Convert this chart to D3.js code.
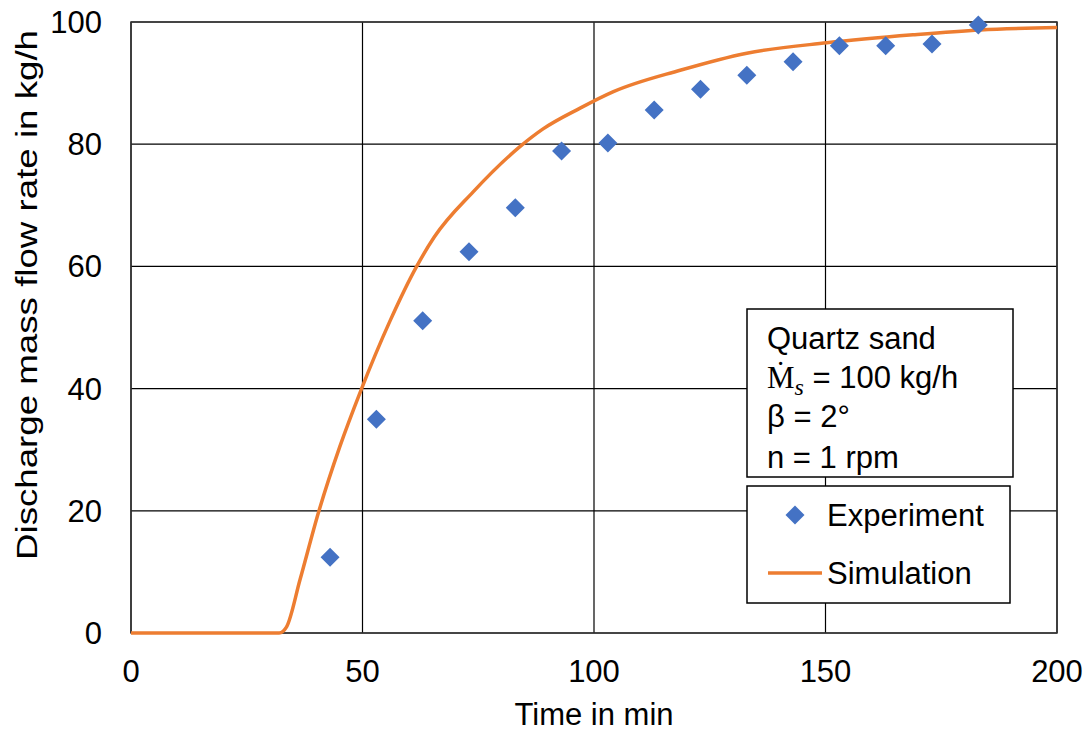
<!DOCTYPE html>
<html>
<head>
<meta charset="utf-8">
<script src="https://cdn.jsdelivr.net/npm/d3@7"></script>
<style>
  body { margin: 0; background: #fff; }
  text { font-family: "Liberation Sans", Arial, sans-serif; fill: #000; }
</style>
</head>
<body>
<svg id="chart" width="1091" height="736"></svg>
<script>
// experiment: measured discharge rate
const expTime = [43, 53, 63, 73, 83, 93, 103, 113, 123, 133, 143, 153, 163, 173, 183];
const expRate = [12.4, 35.0, 51.1, 62.4, 69.6, 78.9, 80.2, 85.6, 89.0, 91.3, 93.5, 96.1, 96.1, 96.4, 99.5];

// simulation curve
const simTime = [0, 32, 33.6, 36.5, 40.6, 45.1, 49.6, 55.9, 61.7, 65.5, 73.9, 84, 89, 97, 104.2, 118.6, 133, 150.3, 168.9, 183.4, 200];
const simRate = [0, 0, 1.0, 8.7, 20, 30.5, 39.6, 51.0, 60, 64.8, 72.2, 79.6, 82.5, 85.9, 88.6, 92.1, 94.9, 96.6, 97.9, 98.7, 99.1];

const xTicks = [0, 50, 100, 150, 200];
const yTicks = [0, 20, 40, 60, 80, 100];

const infoLines = ["Quartz sand", "Ṁs = 100 kg/h", "β = 2°", "n = 1 rpm"];
const seriesNames = ["Experiment", "Simulation"];

const blue = "#4472C4", orange = "#ED7D31";
const fontSize = 31;

const svg = d3.select("#chart");
const plotLeft = 131, plotRight = 1057, plotTop = 22, plotBottom = 633;

const x = d3.scaleLinear().domain([0, 200]).range([plotLeft, plotRight]);
const y = d3.scaleLinear().domain([0, 100]).range([plotBottom, plotTop]);

// grid
svg.append("g").selectAll("line").data(yTicks).enter().append("line")
  .attr("x1", plotLeft).attr("x2", plotRight)
  .attr("y1", d => y(d)).attr("y2", d => y(d))
  .attr("stroke", "#000").attr("stroke-width", 1.2);
svg.append("g").selectAll("line").data(xTicks).enter().append("line")
  .attr("y1", plotTop).attr("y2", plotBottom)
  .attr("x1", d => x(d)).attr("x2", d => x(d))
  .attr("stroke", "#000").attr("stroke-width", 1.2);
svg.append("rect")
  .attr("x", plotLeft).attr("y", plotTop)
  .attr("width", plotRight - plotLeft).attr("height", plotBottom - plotTop)
  .attr("fill", "none").attr("stroke", "#333").attr("stroke-width", 1.5);

// tick labels
svg.append("g").selectAll("text").data(xTicks).enter().append("text")
  .attr("x", d => x(d)).attr("y", 682)
  .attr("text-anchor", "middle").attr("font-size", fontSize)
  .text(d => d);
svg.append("g").selectAll("text").data(yTicks).enter().append("text")
  .attr("x", 102).attr("y", d => y(d) + 11)
  .attr("text-anchor", "end").attr("font-size", fontSize)
  .text(d => d);

// axis titles
svg.append("text").attr("x", 594).attr("y", 725)
  .attr("text-anchor", "middle").attr("font-size", fontSize)
  .text("Time in min");
svg.append("text")
  .attr("transform", "translate(37,295) rotate(-90)")
  .attr("text-anchor", "middle").attr("font-size", 29)
  .attr("textLength", 530).attr("lengthAdjust", "spacingAndGlyphs")
  .text("Discharge mass flow rate in kg/h");

// simulation line
const line = d3.line().x((d, i) => x(simTime[i])).y(d => y(d)).curve(d3.curveMonotoneX);
svg.append("path").datum(simRate)
  .attr("d", line)
  .attr("fill", "none").attr("stroke", orange).attr("stroke-width", 3.5);

// experiment markers
const diamond = "M0,-9.5L9.5,0L0,9.5L-9.5,0Z";
svg.append("g").selectAll("path").data(expRate).enter().append("path")
  .attr("d", diamond)
  .attr("transform", (d, i) => `translate(${x(expTime[i])},${y(d)})`)
  .attr("fill", blue);

// info box
svg.append("rect").attr("x", 747).attr("y", 309).attr("width", 266).attr("height", 168)
  .attr("fill", "#fff").attr("stroke", "#000").attr("stroke-width", 1.5);
const info = svg.append("g").attr("font-size", fontSize);
info.append("text").attr("x", 767).attr("y", 349).text(infoLines[0]);
const mLine = info.append("text").attr("x", 767).attr("y", 388);
mLine.append("tspan").attr("font-family", "Liberation Serif, serif").text(infoLines[1].slice(0, 1));
mLine.append("tspan").attr("font-family", "Liberation Serif, serif").attr("font-style", "italic")
  .attr("font-size", 24).attr("dy", 7).text(infoLines[1].slice(1, 2));
mLine.append("tspan").attr("dy", -7).text(infoLines[1].slice(2));
info.append("text").attr("x", 767).attr("y", 427).text(infoLines[2]);
info.append("text").attr("x", 767).attr("y", 468).text(infoLines[3]);

// legend
svg.append("rect").attr("x", 747).attr("y", 486).attr("width", 263).attr("height", 117)
  .attr("fill", "#fff").attr("stroke", "#000").attr("stroke-width", 1.5);
svg.append("path").attr("d", diamond).attr("transform", "translate(795,515)").attr("fill", blue);
svg.append("line").attr("x1", 768).attr("x2", 822).attr("y1", 573).attr("y2", 573)
  .attr("stroke", orange).attr("stroke-width", 3.5);
svg.append("g").selectAll("text").data(seriesNames).enter().append("text")
  .attr("x", 827).attr("y", (d, i) => 526 + i * 58)
  .attr("font-size", fontSize)
  .text(d => d);
</script>
</body>
</html>
